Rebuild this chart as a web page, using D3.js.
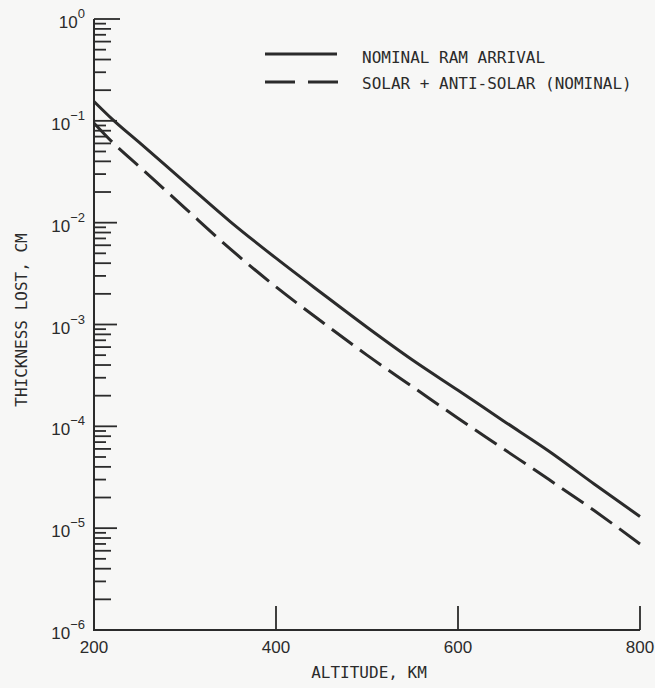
<!DOCTYPE html>
<html>
<head>
<meta charset="utf-8">
<script src="https://cdn.jsdelivr.net/npm/d3@7"></script>
<style>
  html, body { margin: 0; padding: 0; background: #f7f7f6; }
  svg { display: block; }
</style>
</head>
<body>
<svg id="chart" width="655" height="688"></svg>
<script>
// ---- data ----
const altitudes = [200, 220, 250, 300, 350, 400, 450, 500, 550, 600, 650, 700, 750, 800];
const ramArrival = [0.155, 0.104, 0.061, 0.0249, 0.0102, 0.00448, 0.00204, 0.00094, 0.000448, 0.000226, 0.000113, 0.000057, 0.000027, 0.000013];
const solarAntiSolar = [0.095, 0.062, 0.0354, 0.0139, 0.0055, 0.00234, 0.00107, 0.0005, 0.000245, 0.00012, 0.00006, 0.00003, 0.0000148, 0.000007];
const seriesNames = ["NOMINAL RAM ARRIVAL", "SOLAR + ANTI-SOLAR (NOMINAL)"];
const xTicks = [200, 400, 600, 800];
const yExponents = [0, -1, -2, -3, -4, -5, -6];
const xTitle = "ALTITUDE, KM";
const yTitle = "THICKNESS LOST, CM";

// ---- layout ----
const svg = d3.select("#chart");
const ink = "#2b2b2b";
const monoFont = "'DejaVu Sans Mono', monospace";
const numFont = "'Liberation Sans', Arial, sans-serif";

const x = d3.scaleLinear().domain([200, 800]).range([94, 640]);
const y = d3.scaleLog().domain([1e-6, 1]).range([630, 19]);

// axes lines
svg.append("line").attr("x1", x(200)).attr("x2", x(200)).attr("y1", y(1)).attr("y2", y(1e-6))
  .attr("stroke", ink).attr("stroke-width", 2);
svg.append("line").attr("x1", x(200) - 1).attr("x2", x(800)).attr("y1", y(1e-6)).attr("y2", y(1e-6))
  .attr("stroke", ink).attr("stroke-width", 2);

// y ticks: majors and minors (inward)
const yg = svg.append("g");
yExponents.forEach(e => {
  const v = Math.pow(10, e);
  if (e !== -6) {
    yg.append("line").attr("x1", x(200)).attr("x2", x(200) + (e === 0 ? 26 : 23))
      .attr("y1", y(v)).attr("y2", y(v)).attr("stroke", ink).attr("stroke-width", 1.8);
  }
  if (e > -6) {
    for (let m = 2; m <= 9; m++) {
      const mv = m * Math.pow(10, e - 1);
      const len = (m % 2 === 0) ? 17 : 12;
      yg.append("line").attr("x1", x(200)).attr("x2", x(200) + len)
        .attr("y1", y(mv)).attr("y2", y(mv)).attr("stroke", ink).attr("stroke-width", 1.8);
    }
  }
  const t = yg.append("text").attr("x", 85).attr("y", y(v) + 9)
    .attr("text-anchor", "end").attr("font-family", numFont).attr("font-size", 17).attr("fill", ink);
  t.append("tspan").text("10");
  t.append("tspan").attr("dy", -10).attr("font-size", 13).text(e === 0 ? "0" : "\u2212" + Math.abs(e));
});

// x ticks (upward)
const xg = svg.append("g");
xTicks.forEach(k => {
  if (k !== 200) {
    xg.append("line").attr("x1", x(k)).attr("x2", x(k)).attr("y1", y(1e-6)).attr("y2", y(1e-6) - 24)
      .attr("stroke", ink).attr("stroke-width", 1.8);
  }
  xg.append("text").attr("x", x(k)).attr("y", 653).attr("text-anchor", "middle")
    .attr("font-family", numFont).attr("font-size", 17).attr("fill", ink).text(k);
});

// axis titles
svg.append("text").attr("x", 369).attr("y", 678).attr("text-anchor", "middle")
  .attr("font-family", monoFont).attr("font-size", 16).attr("fill", ink).text(xTitle);
svg.append("text").attr("transform", "translate(27,320) rotate(-90)").attr("text-anchor", "middle")
  .attr("font-family", monoFont).attr("font-size", 16).attr("fill", ink).text(yTitle);

// curves
const line = d3.line().x(d => x(d[0])).y(d => y(d[1])).curve(d3.curveMonotoneX);
svg.append("path").datum(altitudes.map((a, i) => [a, ramArrival[i]]))
  .attr("d", line).attr("fill", "none").attr("stroke", ink).attr("stroke-width", 3);
svg.append("path").datum(altitudes.map((a, i) => [a, solarAntiSolar[i]]))
  .attr("d", line).attr("fill", "none").attr("stroke", ink).attr("stroke-width", 3)
  .attr("stroke-dasharray", "26,9");

// legend
const lg = svg.append("g");
lg.append("line").attr("x1", 265).attr("x2", 337).attr("y1", 54).attr("y2", 54)
  .attr("stroke", ink).attr("stroke-width", 3);
lg.append("line").attr("x1", 265).attr("x2", 338).attr("y1", 82).attr("y2", 82)
  .attr("stroke", ink).attr("stroke-width", 3).attr("stroke-dasharray", "30,13");
lg.append("text").attr("x", 362).attr("y", 63).attr("font-family", monoFont).attr("font-size", 16)
  .attr("fill", ink).text(seriesNames[0]);
lg.append("text").attr("x", 362).attr("y", 89).attr("font-family", monoFont).attr("font-size", 16)
  .attr("fill", ink).text(seriesNames[1]);
</script>
</body>
</html>
